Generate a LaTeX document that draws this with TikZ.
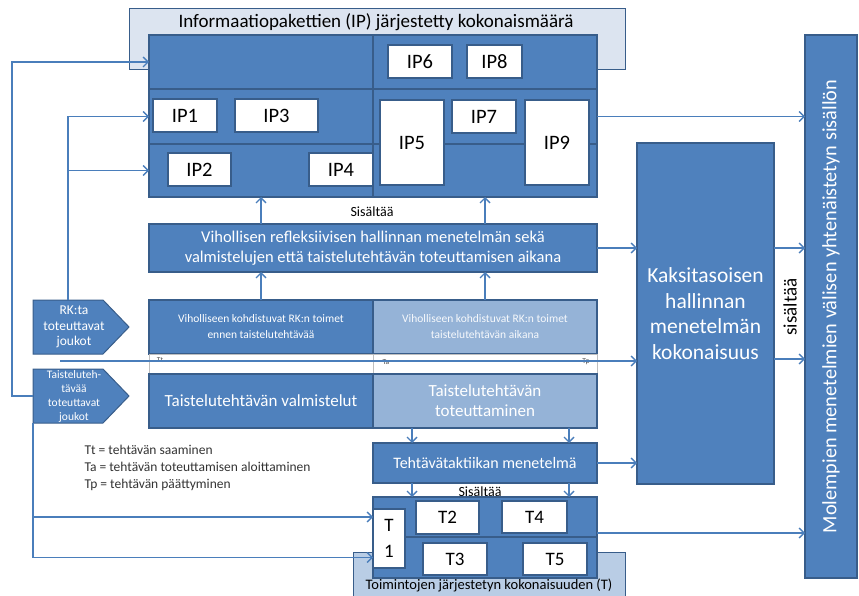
\documentclass[tikz,border=0pt]{standalone}
\usepackage{fontspec}
\setmainfont{Carlito}
\usetikzlibrary{arrows.meta,calc}
\definecolor{dkblue}{HTML}{4F81BD}
\definecolor{bordc}{HTML}{385D8A}
\definecolor{ltblue}{HTML}{95B3D7}
\definecolor{ltboxa}{HTML}{DCE4F0}
\definecolor{ltboxb}{HTML}{B9CDE5}
\definecolor{arrc}{HTML}{4A7EBB}
\definecolor{legc}{HTML}{333333}
\tikzset{
  base/.style={inner sep=0pt, outer sep=0pt, anchor=north west, align=center},
  dk/.style={base, draw=bordc, fill=dkblue, line width=1.3pt, text=white},
  lt/.style={dk, fill=ltblue},
  lbox/.style={base, draw=bordc, line width=1pt},
  wb/.style={base, draw=bordc, fill=white, line width=1.3pt, text=black, font=\fontsize{20.5}{26}\selectfont},
  pent/.style={base, draw=none},
  arr/.style={draw=arrc, line width=1.4pt, -{Straight Barb[length=5pt,width=10pt]}},
  small/.style={font=\fontsize{14}{16}\selectfont},
}
\begin{document}
\begin{tikzpicture}[x=1pt,y=-1pt]
\useasboundingbox (0,0) rectangle (859,596);
% background light boxes
\node[lbox, fill=ltboxa, minimum width=496pt, minimum height=61pt] (iptop) at (129,9) {};
\node[font=\fontsize{19}{22}\selectfont] (iptitle) at (376,22) {Informaatiopakettien (IP) järjestetty kokonaismäärä};
\node[lbox, fill=ltboxb, minimum width=272pt, minimum height=46pt] (tlow) at (353,552) {};
% IP box
\node[dk, minimum width=448pt, minimum height=54pt] (ipr1) at (149,35) {};
\node[dk, minimum width=448pt, minimum height=55pt] (ipr2) at (149,89) {};
\node[dk, minimum width=448pt, minimum height=53pt] (ipr3) at (149,144) {};
\draw[bordc, line width=1.3pt] (ipr1.north) -- (ipr3.south);
\node[wb, minimum width=64pt, minimum height=33pt] (ip1) at (153,99) {IP1};
\node[wb, minimum width=83pt, minimum height=33pt] (ip3) at (235,99) {IP3};
\node[wb, minimum width=63pt, minimum height=33pt] (ip2) at (168,153) {IP2};
\node[wb, minimum width=64pt, minimum height=33pt] (ip4) at (309,153) {IP4};
\node[wb, minimum width=64pt, minimum height=33pt] (ip6) at (388,45) {IP6};
\node[wb, minimum width=55pt, minimum height=33pt] (ip8) at (467,45) {IP8};
\node[wb, minimum width=64pt, minimum height=85pt] (ip5) at (380,100) {IP5};
\node[wb, minimum width=64pt, minimum height=33pt] (ip7) at (452,100) {IP7};
\node[wb, minimum width=64pt, minimum height=85pt] (ip9) at (525,100) {IP9};
\node[small] (sis1) at (372,212) {Sisältää};
% middle box
\node[dk, minimum width=448pt, minimum height=48pt, font=\fontsize{16.5}{20}\selectfont] (mid) at (149,224)
  {Vihollisen refleksiivisen hallinnan menetelmän sekä\\valmistelujen että taistelutehtävän toteuttamisen aikana};
% rows
\node[dk, minimum width=224pt, minimum height=54pt, font=\fontsize{11.5}{16}\selectfont] (rowA) at (149,300)
  {Viholliseen kohdistuvat RK:n toimet\\ennen taistelutehtävää};
\node[lt, minimum width=224pt, minimum height=54pt, font=\fontsize{11.5}{16}\selectfont, text=white!92!ltblue] (rowA2) at (373,300)
  {Viholliseen kohdistuvat RK:n toimet\\taistelutehtävän aikana};
\node[base, draw=black!25, fill=white, line width=0.6pt, minimum width=448pt, minimum height=20pt] (strip) at (149,354) {};
\draw[black!25, line width=0.8pt] (strip.north) -- (strip.south);
\node[font=\fontsize{7.5}{8}\selectfont, text=black!70] (ltt) at (160,360) {Tt};
\node[font=\fontsize{7.5}{8}\selectfont, text=black!70] (lta) at (386,362) {Ta};
\node[font=\fontsize{7.5}{8}\selectfont, text=black!70] (ltp) at (586,362) {Tp};
\node[dk, minimum width=224pt, minimum height=54pt, font=\fontsize{17}{20}\selectfont] (rowB) at (149,374)
  {Taistelutehtävän valmistelut};
\node[lt, minimum width=224pt, minimum height=54pt, font=\fontsize{17}{20}\selectfont] (rowB2) at (373,374)
  {Taistelutehtävän\\toteuttaminen};
% pentagons
\node[pent, minimum width=96pt, minimum height=54pt] (pA) at (33,300) {};
\filldraw[fill=dkblue, draw=bordc, line width=1pt] (pA.north west) -- ([xshift=-26pt]pA.north east) -- (pA.east) -- ([xshift=-26pt]pA.south east) -- (pA.south west) -- cycle;
\node[text=white, align=center, font=\fontsize{13.5}{15.5}\selectfont] (pAt) at ([xshift=-7pt]pA.center) {RK:ta\\toteuttavat\\joukot};
\node[pent, minimum width=96pt, minimum height=54pt] (pB) at (33,369) {};
\filldraw[fill=dkblue, draw=bordc, line width=1pt] (pB.north west) -- ([xshift=-26pt]pB.north east) -- (pB.east) -- ([xshift=-26pt]pB.south east) -- (pB.south west) -- cycle;
\node[text=white, align=center, font=\fontsize{11.5}{14.3}\selectfont] (pBt) at ([xshift=-7pt,yshift=-0.5pt]pB.center) {Taisteluteh-\\tävää\\toteuttavat\\joukot};
% legend
\node[anchor=west, align=left, text=legc, font=\fontsize{13.5}{17}\selectfont] (legend) at (81,468)
  {Tt = tehtävän saaminen\\Ta = tehtävän toteuttamisen aloittaminen\\Tp = tehtävän päättyminen};
% task tactics
\node[dk, minimum width=224pt, minimum height=40pt, font=\fontsize{16}{20}\selectfont] (tt) at (373,443) {Tehtävätaktiikan menetelmä};
\node[small] (sis2) at (480,492) {Sisältää};
% T box
\node[dk, minimum width=224pt, minimum height=40pt] (tr1) at (373,497) {};
\node[dk, minimum width=224pt, minimum height=41pt] (tr2) at (373,537) {};
\node[wb, minimum width=32pt, minimum height=59pt, font=\fontsize{19}{26}\selectfont] (t1) at (373,509) {T\\1};
\node[wb, minimum width=63pt, minimum height=33pt, font=\fontsize{19}{22}\selectfont] (t2) at (416,501) {T2};
\node[wb, minimum width=65pt, minimum height=32pt, font=\fontsize{19}{22}\selectfont] (t4) at (502,501) {T4};
\node[wb, minimum width=64pt, minimum height=32pt, font=\fontsize{19}{22}\selectfont] (t3) at (423,543) {T3};
\node[wb, minimum width=64pt, minimum height=32pt, font=\fontsize{19}{22}\selectfont] (t5) at (523,543) {T5};
\node[font=\fontsize{14.5}{16}\selectfont] (tlowt) at (489,585) {Toimintojen järjestetyn kokonaisuuden (T)};
% right boxes
\node[dk, minimum width=137pt, minimum height=341pt, font=\fontsize{21.5}{25.7}\selectfont] (kak) at (637,143)
  {Kaksitasoisen\\hallinnan\\menetelmän\\kokonaisuus};
\node[dk, minimum width=52pt, minimum height=543pt] (mol) at (805,35) {};
\node[rotate=90, text=white, font=\fontsize{20.3}{22}\selectfont] (molt) at (mol.center) {Molempien menetelmien välisen yhtenäistetyn sisällön};
\node[rotate=90, font=\fontsize{19}{20}\selectfont] (sis3) at (790,307) {sisältää};
% coordinates
\coordinate (L1) at (12,0);
\coordinate (L2) at (68,0);
\coordinate (tl0) at (60,361);
\coordinate (c1) at (412,0);
\coordinate (c2) at (569,0);
% connectors left
\draw[arr] (pB.west) -- (pB.west -| L1) -- (L1 |- ipr1.west) -- (ipr1.west);
\draw[arr] (pA.north -| L2) -- (L2 |- ipr2.west) -- (ipr2.west);
\draw[arr] (L2 |- ipr3.west) -- (ipr3.west);
\draw[arr] (pB.south west) -- (pB.south west |- tr1.west) -- (tr1.west);
\draw[arr] (pB.south west |- tr1.west) -- (pB.south west |- tr2.west) -- (tr2.west);
% vertical connectors
\draw[arr] (rowA.north) -- (rowA.north |- mid.south);
\draw[arr] (rowA2.north) -- (rowA2.north |- mid.south);
\draw[arr] (mid.north -| rowA.north) -- (ipr3.south -| rowA.north);
\draw[arr] (mid.north -| rowA2.north) -- (ipr3.south -| rowA2.north);
\draw[arr] (rowB2.south -| c1) -- (tt.north -| c1);
\draw[arr] (rowB2.south -| c2) -- (tt.north -| c2);
\draw[arr] (tt.south -| c1) -- (tr1.north -| c1);
\draw[arr] (tt.south -| c2) -- (tr1.north -| c2);
% timeline
\draw[arr] (tl0) -- (tl0 -| kak.west);
% right connectors
\draw[arr] (ipr2.east) -- (ipr2.east -| mol.west);
\draw[arr] (mid.east) -- (mid.east -| kak.west);
\draw[arr] (tt.east) -- (tt.east -| kak.west);
\draw[arr] (kak.east |- mid.east) -- (mol.west |- mid.east);
\draw[arr] ([yshift=2pt]kak.east |- tl0) -- ([yshift=2pt]mol.west |- tl0);
\draw[arr] ([yshift=4pt]tr1.south east) -- ([yshift=4pt]tr1.south east -| mol.west);
\end{tikzpicture}
\end{document}
